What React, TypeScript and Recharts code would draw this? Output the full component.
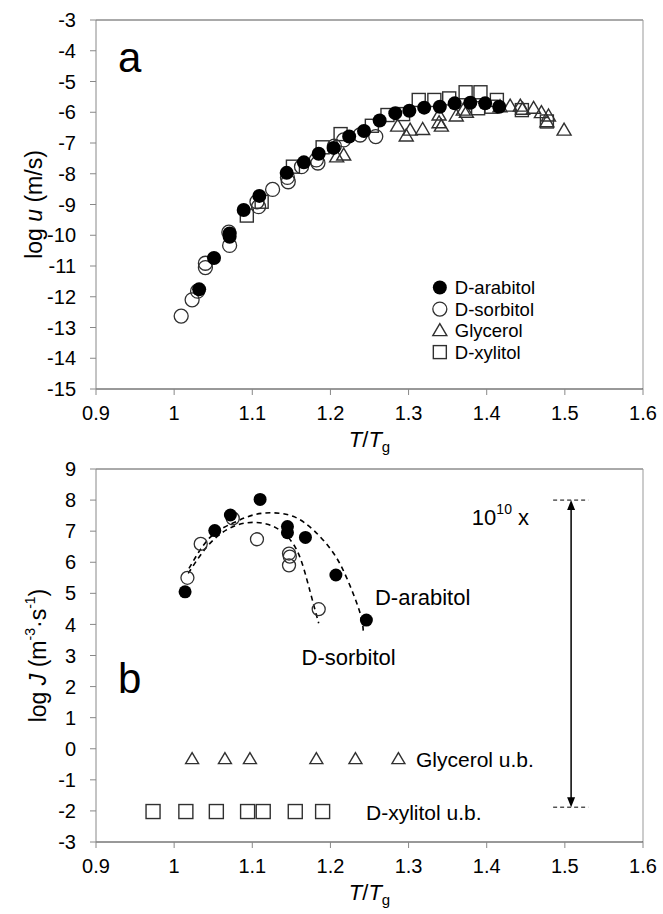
import React from 'react';
import { ComposedChart, Scatter, Line, XAxis, YAxis, ReferenceLine, ReferenceDot, Label } from 'recharts';

const FONT = '"Liberation Sans", Arial, sans-serif';

const xTicks = [0.9, 1, 1.1, 1.2, 1.3, 1.4, 1.5, 1.6];
const uTicks = [-15, -14, -13, -12, -11, -10, -9, -8, -7, -6, -5, -4, -3];
const jTicks = [-3, -2, -1, 0, 1, 2, 3, 4, 5, 6, 7, 8, 9];

// Panel a: log u vs T/Tg
const arabitolU: [number, number][] = [
  [1.032, -11.76], [1.051, -10.74], [1.071, -9.94], [1.071, -10.05], [1.089, -9.18],
  [1.109, -8.72], [1.144, -7.97], [1.166, -7.63], [1.185, -7.35], [1.204, -7.16],
  [1.224, -6.79], [1.243, -6.61], [1.263, -6.27], [1.283, -6.03], [1.301, -5.95],
  [1.32, -5.85], [1.34, -5.82], [1.359, -5.71], [1.379, -5.69], [1.398, -5.71], [1.416, -5.82],
];
const sorbitolU: [number, number][] = [
  [1.009, -12.63], [1.023, -12.1], [1.03, -11.82], [1.04, -10.91], [1.04, -11.05],
  [1.07, -9.9], [1.071, -10.33], [1.106, -8.91], [1.108, -9.07], [1.126, -8.51],
  [1.145, -8.12], [1.146, -8.26], [1.163, -7.77], [1.182, -7.55], [1.184, -7.65],
  [1.205, -7.1], [1.217, -6.9], [1.238, -6.74], [1.258, -6.79],
];
const glycerolU: [number, number][] = [
  [1.208, -7.45], [1.217, -7.39], [1.286, -6.45], [1.297, -6.77], [1.302, -6.58],
  [1.318, -6.56], [1.339, -6.34], [1.342, -6.45], [1.339, -6.09], [1.361, -6.12],
  [1.37, -5.93], [1.374, -6.0], [1.417, -5.82], [1.43, -5.8], [1.443, -5.8],
  [1.446, -5.9], [1.46, -5.87], [1.47, -6.01], [1.479, -6.12], [1.477, -6.31], [1.499, -6.58],
];
const xylitolU: [number, number][] = [
  [1.093, -9.36], [1.112, -8.91], [1.152, -7.77], [1.19, -7.14], [1.213, -6.71],
  [1.253, -6.44], [1.273, -6.09], [1.293, -6.06], [1.313, -5.6], [1.333, -5.6],
  [1.352, -5.55], [1.373, -5.35], [1.392, -5.35], [1.389, -5.87], [1.406, -5.82],
  [1.413, -5.6], [1.445, -5.93], [1.477, -6.3],
];

// Panel b: log J vs T/Tg
const arabitolJ: [number, number][] = [
  [1.014, 5.05], [1.052, 7.02], [1.072, 7.52], [1.11, 8.02], [1.145, 7.15],
  [1.145, 6.95], [1.168, 6.8], [1.207, 5.59], [1.246, 4.14],
];
const sorbitolJ: [number, number][] = [
  [1.017, 5.5], [1.034, 6.59], [1.075, 7.41], [1.106, 6.74], [1.147, 6.28],
  [1.148, 6.18], [1.147, 5.9], [1.185, 4.49],
];
const arabitolFit: [number, number][] = [
  [1.019, 5.8], [1.046, 6.8], [1.076, 7.27], [1.101, 7.52], [1.127, 7.59],
  [1.153, 7.47], [1.178, 7.04], [1.204, 6.29], [1.223, 5.37], [1.238, 4.36], [1.242, 3.8],
];
const sorbitolFit: [number, number][] = [
  [1.018, 5.64], [1.042, 6.5], [1.067, 7.04], [1.093, 7.27], [1.118, 7.23],
  [1.138, 6.98], [1.157, 6.39], [1.17, 5.43], [1.178, 4.68], [1.185, 4.04],
];
const glycerolUbX = [1.023, 1.065, 1.097, 1.182, 1.232, 1.287];
const glycerolUbY = -0.33;
const xylitolUbX = [0.973, 1.015, 1.054, 1.094, 1.114, 1.155, 1.19];
const xylitolUbY = -2.02;

const legendNames = ['D-arabitol', 'D-sorbitol', 'Glycerol', 'D-xylitol'];
const legendYs = [-11.7, -12.4, -13.1, -13.8];
const legendX = 1.34;

const pts = (a: [number, number][]) => a.map(([x, y]) => ({ x, y }));
const ubPts = (xs: number[], y: number) => xs.map((x) => ({ x, y }));

const STROKE = '#303030';

const filledCircle = (r: number) => (p: any) => <circle cx={p.cx} cy={p.cy} r={r} fill="#000" />;
const openCircle = (r: number) => (p: any) => (
  <circle cx={p.cx} cy={p.cy} r={r} fill="none" stroke={STROKE} strokeWidth={1.3} />
);
const triangle = (w: number, h: number) => (p: any) => (
  <polygon
    points={`${p.cx},${p.cy - h * 0.58} ${p.cx - w / 2},${p.cy + h * 0.42} ${p.cx + w / 2},${p.cy + h * 0.42}`}
    fill="none" stroke={STROKE} strokeWidth={1.4}
  />
);
const square = (s: number) => (p: any) => (
  <rect x={p.cx - s / 2} y={p.cy - s / 2} width={s} height={s} fill="none" stroke={STROKE} strokeWidth={1.4} />
);

const topShapes = [filledCircle(7), openCircle(7), triangle(14, 12), square(13)];

const fmtX = (v: number) => String(v);

const tickStyle = { fontSize: 20, fill: '#000', fontFamily: FONT };

const XTitle = (props: any) => {
  const vb = props.viewBox || { x: 96, y: 389, width: 547, height: 66 };
  const cx = vb.x + vb.width / 2;
  const y = vb.y + 58;
  return (
    <text x={cx} y={y} textAnchor="middle" fontSize={22} fontFamily={FONT} fill="#000">
      <tspan fontStyle="italic">T</tspan>
      <tspan>/</tspan>
      <tspan fontStyle="italic">T</tspan>
      <tspan fontSize={15} dy={5}>g</tspan>
    </text>
  );
};

const YTitleU = (props: any) => {
  const vb = props.viewBox || { x: 0, y: 20, width: 96, height: 369 };
  const x = 34;
  const y = vb.y + vb.height / 2;
  return (
    <text x={x} y={y} transform={`rotate(-90 ${x} ${y})`} textAnchor="middle" dominantBaseline="central"
      fontSize={23} fontFamily={FONT} fill="#000">
      log <tspan fontStyle="italic">u</tspan> (m/s)
    </text>
  );
};

const YTitleJ = (props: any) => {
  const vb = props.viewBox || { x: 0, y: 469, width: 96, height: 373 };
  const x = 38;
  const y = vb.y + vb.height / 2;
  return (
    <text x={x} y={y} transform={`rotate(-90 ${x} ${y})`} textAnchor="middle" dominantBaseline="central"
      fontSize={23} fontFamily={FONT} fill="#000">
      log <tspan fontStyle="italic">J</tspan> (m<tspan fontSize={14} dy={-8}>-3</tspan>
      <tspan dy={8}>·s</tspan><tspan fontSize={14} dy={-8}>-1</tspan><tspan dy={8}>)</tspan>
    </text>
  );
};

const textShape = (txt: string, size: number, anchor: string = 'start') => (p: any) => (
  <text x={p.cx} y={p.cy} textAnchor={anchor} dominantBaseline="central" fontSize={size} fontFamily={FONT} fill="#000">
    {txt}
  </text>
);

const panelLetter = (txt: string) => (p: any) => (
  <text x={p.cx} y={p.cy} fontSize={42} fontFamily={FONT} fill="#000">{txt}</text>
);

const powerText = (p: any) => (
  <text x={p.cx} y={p.cy} dominantBaseline="central" fontSize={22} fontFamily={FONT} fill="#000">
    10<tspan fontSize={14} dy={-8}>10</tspan><tspan dy={8}> x</tspan>
  </text>
);

const legendShape = (i: number) => (p: any) => (
  <g>
    {topShapes[i]({ cx: p.cx, cy: p.cy })}
    <text x={p.cx + 15} y={p.cy} dominantBaseline="central" fontSize={18.5} fontFamily={FONT} fill="#000">
      {legendNames[i]}
    </text>
  </g>
);

const arrowShape = (p: any) => {
  const { x1, y1, x2, y2 } = p;
  const top = Math.min(y1, y2);
  const bot = Math.max(y1, y2);
  return (
    <g>
      <line x1={x1} y1={top + 8} x2={x1} y2={bot - 8} stroke="#000" strokeWidth={1.5} />
      <polygon points={`${x1},${top} ${x1 - 4},${top + 10} ${x1 + 4},${top + 10}`} fill="#000" />
      <polygon points={`${x1},${bot} ${x1 - 4},${bot - 10} ${x1 + 4},${bot - 10}`} fill="#000" />
    </g>
  );
};

export default function App() {
  return (
    <div style={{ position: 'absolute', left: 0, top: 0, width: 663, height: 914, background: '#fff' }}>
      <ComposedChart width={663} height={455} margin={{ top: 20, right: 20, bottom: 0, left: 0 }}>
        <XAxis type="number" dataKey="x" domain={[0.9, 1.6]} ticks={xTicks} tickFormatter={fmtX}
          allowDataOverflow height={66} tickSize={6} tickMargin={11} tick={tickStyle}
          axisLine={{ stroke: '#333' }} tickLine={{ stroke: '#888' }}>
          <Label content={XTitle} />
        </XAxis>
        <YAxis type="number" dataKey="y" domain={[-15, -3]} ticks={uTicks} allowDataOverflow width={96}
          tickSize={6} tickMargin={14} tick={tickStyle} axisLine={{ stroke: '#888' }} tickLine={{ stroke: '#888' }}>
          <Label content={YTitleU} />
        </YAxis>
        <ReferenceLine y={-3} stroke="#555" />
        <ReferenceLine x={1.6} stroke="#999" />
        <Scatter data={pts(xylitolU)} shape={topShapes[3]} isAnimationActive={false} />
        <Scatter data={pts(glycerolU)} shape={topShapes[2]} isAnimationActive={false} />
        <Scatter data={pts(sorbitolU)} shape={topShapes[1]} isAnimationActive={false} />
        <Scatter data={pts(arabitolU)} shape={topShapes[0]} isAnimationActive={false} />
        {legendNames.map((n, i) => (
          <ReferenceDot key={n} x={legendX} y={legendYs[i]} r={0} ifOverflow="visible" shape={legendShape(i)} />
        ))}
        <ReferenceDot x={0.928} y={-4.7} r={0} ifOverflow="visible" shape={panelLetter('a')} />
      </ComposedChart>
      <ComposedChart width={663} height={459} margin={{ top: 14, right: 20, bottom: 0, left: 0 }}>
        <XAxis type="number" dataKey="x" domain={[0.9, 1.6]} ticks={xTicks} tickFormatter={fmtX}
          allowDataOverflow height={72} tickSize={6} tickMargin={11} tick={tickStyle}
          axisLine={{ stroke: '#333' }} tickLine={{ stroke: '#888' }}>
          <Label content={XTitle} />
        </XAxis>
        <YAxis type="number" dataKey="y" domain={[-3, 9]} ticks={jTicks} allowDataOverflow width={96}
          tickSize={6} tickMargin={14} tick={tickStyle} axisLine={{ stroke: '#888' }} tickLine={{ stroke: '#888' }}>
          <Label content={YTitleJ} />
        </YAxis>
        <ReferenceLine y={9} stroke="#555" />
        <ReferenceLine x={1.6} stroke="#999" />
        <Line data={pts(arabitolFit)} dataKey="y" type="natural" stroke="#000" strokeWidth={1.6}
          strokeDasharray="5 4" dot={false} isAnimationActive={false} />
        <Line data={pts(sorbitolFit)} dataKey="y" type="natural" stroke="#000" strokeWidth={1.6}
          strokeDasharray="5 4" dot={false} isAnimationActive={false} />
        <Scatter data={ubPts(xylitolUbX, xylitolUbY)} shape={square(14)} isAnimationActive={false} />
        <Scatter data={ubPts(glycerolUbX, glycerolUbY)} shape={triangle(13, 11)} isAnimationActive={false} />
        <Scatter data={pts(sorbitolJ)} shape={openCircle(6.5)} isAnimationActive={false} />
        <Scatter data={pts(arabitolJ)} shape={filledCircle(6.5)} isAnimationActive={false} />
        <ReferenceLine segment={[{ x: 1.485, y: 8 }, { x: 1.53, y: 8 }]} stroke="#000" strokeDasharray="4 3" ifOverflow="visible" />
        <ReferenceLine segment={[{ x: 1.485, y: -1.88 }, { x: 1.53, y: -1.88 }]} stroke="#000" strokeDasharray="4 3" ifOverflow="visible" />
        <ReferenceLine segment={[{ x: 1.508, y: 8 }, { x: 1.508, y: -1.88 }]} shape={arrowShape} ifOverflow="visible" />
        <ReferenceDot x={1.381} y={7.45} r={0} ifOverflow="visible" shape={powerText} />
        <ReferenceDot x={1.257} y={4.88} r={0} ifOverflow="visible" shape={textShape('D-arabitol', 22)} />
        <ReferenceDot x={1.163} y={2.95} r={0} ifOverflow="visible" shape={textShape('D-sorbitol', 22)} />
        <ReferenceDot x={1.3095} y={-0.36} r={0} ifOverflow="visible" shape={textShape('Glycerol u.b.', 21)} />
        <ReferenceDot x={1.2455} y={-2.04} r={0} ifOverflow="visible" shape={textShape('D-xylitol u.b.', 21)} />
        <ReferenceDot x={0.928} y={1.8} r={0} ifOverflow="visible" shape={panelLetter('b')} />
      </ComposedChart>
    </div>
  );
}
